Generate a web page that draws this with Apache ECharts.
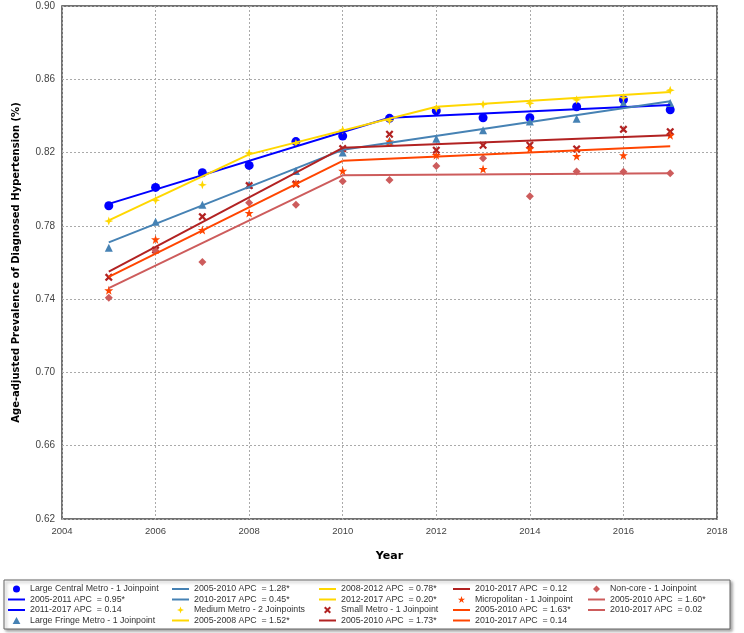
<!DOCTYPE html>
<html>
<head>
<meta charset="utf-8">
<script src="https://cdn.jsdelivr.net/npm/echarts@6/dist/echarts.min.js"></script>
<style>
  html, body { margin: 0; padding: 0; background: #fff; }
  #chart { width: 744px; height: 633px; }
</style>
</head>
<body>
<div id="chart"></div>
<script>
// observed values, one per year
var years = [2005, 2006, 2007, 2008, 2009, 2010, 2011, 2012, 2013, 2014, 2015, 2016, 2017];
var largeCentral = [0.791, 0.801, 0.809, 0.813, 0.826, 0.829, 0.8387, 0.8428, 0.839, 0.839, 0.845, 0.8488, 0.8434];
var largeFringe = [0.768, 0.7822, 0.7915, 0.8025, 0.810, 0.820, 0.8265, 0.8276, 0.8322, 0.837, 0.8385, 0.8469, 0.847];
var mediumMetro = [0.7826, 0.794, 0.8024, 0.8197, 0.825, 0.8323, 0.8374, 0.8442, 0.8463, 0.8469, 0.8488, 0.850, 0.854];
var smallMetro = [0.7519, 0.7668, 0.785, 0.802, 0.8028, 0.8222, 0.830, 0.8213, 0.824, 0.824, 0.822, 0.8327, 0.8314];
var micropolitan = [0.7448, 0.7726, 0.7777, 0.787, 0.8032, 0.810, 0.826, 0.8186, 0.811, 0.8221, 0.818, 0.8185, 0.8294];
var nonCore = [0.7408, 0.7664, 0.7603, 0.7926, 0.7915, 0.8043, 0.805, 0.8127, 0.8169, 0.7961, 0.8097, 0.8095, 0.8087];

// joinpoint fits: [year, value] at the ends and the joinpoints
var largeCentralFit = [[2005, 0.792], [2011, 0.839], [2017, 0.846]];
var largeFringeFit = [[2005, 0.771], [2010, 0.8215], [2017, 0.848]];
var mediumMetroFit = [[2005, 0.783], [2008, 0.819], [2012, 0.845], [2017, 0.853]];
var smallMetroFit = [[2005, 0.755], [2010, 0.8226], [2017, 0.8295]];
var micropolitanFit = [[2005, 0.7522], [2010, 0.8155], [2017, 0.8235]];
var nonCoreFit = [[2005, 0.746], [2010, 0.8076], [2017, 0.8087]];

var largeCentralApc = ['2005-2011 APC  = 0.95*', '2011-2017 APC  = 0.14'];
var largeFringeApc = ['2005-2010 APC  = 1.28*', '2010-2017 APC  = 0.45*'];
var mediumMetroApc = ['2005-2008 APC  = 1.52*', '2008-2012 APC  = 0.78*', '2012-2017 APC  = 0.20*'];
var smallMetroApc = ['2005-2010 APC  = 1.73*', '2010-2017 APC  = 0.12'];
var micropolitanApc = ['2005-2010 APC  = 1.63*', '2010-2017 APC  = 0.14'];
var nonCoreApc = ['2005-2010 APC  = 1.60*', '2010-2017 APC  = 0.02'];

var yTicks = [0.62, 0.66, 0.70, 0.74, 0.78, 0.82, 0.86, 0.90];
var xTicks = [2004, 2006, 2008, 2010, 2012, 2014, 2016, 2018];

var trianglePath = 'path://M5,0 L10,9 L0,9Z';
var diamondPath = 'path://M5,0 L10,5 L5,10 L0,5Z';
var crossPath = 'path://M0,2 L2,0 L5,3 L8,0 L10,2 L7,5 L10,8 L8,10 L5,7 L2,10 L0,8 L3,5Z';
var star4Path = 'path://M5,0 L6.3,3.7 L10,5 L6.3,6.3 L5,10 L3.7,6.3 L0,5 L3.7,3.7Z';
var star5Path = 'path://M5,0 L6.2,3.6 L10,3.6 L7,5.9 L8.1,9.6 L5,7.3 L1.9,9.6 L3,5.9 L0,3.6 L3.8,3.6Z';

var groups = [
    { name: 'Large Central Metro - 1 Joinpoint', color: '#0000ff', symbol: 'circle', size: 9, values: largeCentral, fit: largeCentralFit, apc: largeCentralApc },
    { name: 'Large Fringe Metro - 1 Joinpoint', color: '#4682b4', symbol: trianglePath, size: 8, values: largeFringe, fit: largeFringeFit, apc: largeFringeApc },
    { name: 'Medium Metro - 2 Joinpoints', color: '#ffd700', symbol: star4Path, size: 9, values: mediumMetro, fit: mediumMetroFit, apc: mediumMetroApc },
    { name: 'Small Metro - 1 Joinpoint', color: '#b22222', symbol: crossPath, size: 8, values: smallMetro, fit: smallMetroFit, apc: smallMetroApc },
    { name: 'Micropolitan - 1 Joinpoint', color: '#ff4500', symbol: star5Path, size: 9, values: micropolitan, fit: micropolitanFit, apc: micropolitanApc },
    { name: 'Non-core - 1 Joinpoint', color: '#cd5c5c', symbol: diamondPath, size: 8, values: nonCore, fit: nonCoreFit, apc: nonCoreApc }
];

var series = [];
var legendItems = [];
groups.forEach(function (g) {
    series.push({
        name: g.name,
        type: 'scatter',
        symbol: g.symbol,
        symbolSize: g.size,
        itemStyle: { color: g.color, opacity: 1 },
        z: 2,
        data: years.map(function (y, i) { return [y, g.values[i]]; })
    });
    legendItems.push({ name: g.name });
    for (var k = 0; k < g.apc.length; k++) {
        series.push({
            name: g.apc[k],
            type: 'line',
            symbol: 'none',
            lineStyle: { color: g.color, width: 2 },
            itemStyle: { color: g.color },
            z: 3,
            data: [g.fit[k], g.fit[k + 1]]
        });
        // line only in the legend, no dot
        legendItems.push({ name: g.apc[k], itemStyle: { opacity: 0 } });
    }
});

// 5 legend columns, 4 rows each
var colLeft = [7, 171, 318, 452, 587];
var legends = colLeft.map(function (x, c) {
    return {
        orient: 'vertical',
        left: x,
        top: 584,
        padding: 0,
        itemGap: 0.5,
        itemWidth: 17,
        itemHeight: 7,
        selectedMode: false,
        textStyle: { color: '#333', fontSize: 8.8, lineHeight: 10, fontFamily: 'Liberation Sans' },
        data: legendItems.slice(c * 4, c * 4 + 4)
    };
});

var chart = echarts.init(document.getElementById('chart'));
chart.setOption({
    animation: false,
    backgroundColor: '#fff',
    grid: {
        left: 62, right: 27, top: 6, bottom: 114,
        show: true, borderColor: '#444', borderWidth: 1.5
    },
    xAxis: {
        type: 'value',
        min: xTicks[0], max: xTicks[xTicks.length - 1], interval: 2,
        name: 'Year',
        nameLocation: 'middle',
        nameGap: 32,
        nameTextStyle: { fontWeight: 'bold', fontSize: 11, color: '#000', fontFamily: 'DejaVu Sans' },
        axisLine: { show: false },
        axisTick: { show: false },
        axisLabel: {
            color: '#444', fontSize: 9.5, margin: 7, fontFamily: 'Liberation Sans',
            formatter: function (v) { return String(v); }
        },
        splitLine: { lineStyle: { color: '#aaa', type: [2, 2], width: 1 } }
    },
    yAxis: {
        type: 'value',
        min: yTicks[0], max: yTicks[yTicks.length - 1], interval: 0.04,
        name: 'Age-adjusted Prevalence of Diagnosed Hypertension (%)',
        nameLocation: 'middle',
        nameGap: 41,
        nameTextStyle: { fontWeight: 'bold', fontSize: 10, color: '#000', fontFamily: 'DejaVu Sans' },
        axisLine: { show: false },
        axisTick: { show: false },
        axisLabel: {
            color: '#444', fontSize: 10, margin: 7, fontFamily: 'Liberation Sans',
            formatter: function (v) { return v.toFixed(2); }
        },
        splitLine: { lineStyle: { color: '#aaa', type: [2, 2], width: 1 } }
    },
    legend: legends,
    graphic: [{
        type: 'rect',
        z: -1,
        shape: { x: 4, y: 580, width: 726, height: 49 },
        style: {
            fill: '#fff', stroke: '#666', lineWidth: 1,
            shadowColor: 'rgba(0,0,0,0.35)', shadowBlur: 3, shadowOffsetX: 2, shadowOffsetY: 2
        }
    }],
    series: series
});
</script>
</body>
</html>
